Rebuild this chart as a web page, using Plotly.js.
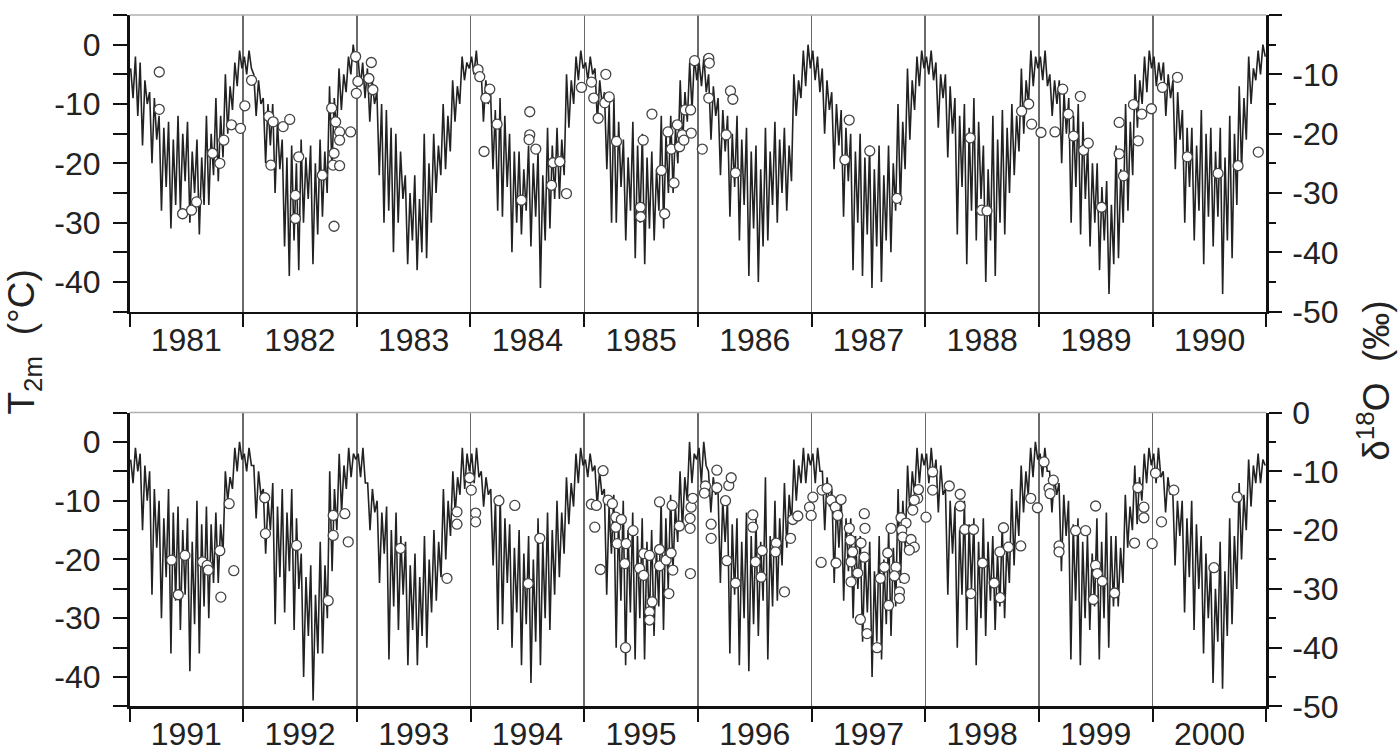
<!DOCTYPE html>
<html>
<head>
<meta charset="utf-8">
<script src="https://cdn.plot.ly/plotly-3.0.1.min.js"></script>
<style>html,body{margin:0;padding:0;background:#fff;}#chart{width:1400px;height:751px;}</style>
</head>
<body>
<div id="chart"></div>
<script>
// ---- 2 m temperature (°C), 4 readings per month, per year ----
const T1981 = [-4,-9,-2,-12, -3,-17,-6,-10, -8,-20,-9,-16, -12,-28,-14,-24, -13,-31,-16,-27, -12,-28,-15,-23, -13,-30,-18,-25, -16,-32,-19,-27, -12,-27,-15,-22, -9,-23,-12,-19, -5,-15,-7,-11, -3,-7,-1,-4];
const T1982 = [-2,-5,-1,-4, -5,-12,-6,-10, -9,-20,-10,-17, -10,-25,-13,-21, -16,-34,-19,-39, -17,-33,-20,-38, -16,-30,-19,-26, -17,-37,-20,-32, -16,-29,-18,-25, -7,-21,-9,-15, -4,-11,-5,-8, -2,-5,0,-3];
const T1983 = [-2,-7,-3,-9, -4,-13,-6,-10, -8,-22,-10,-30, -11,-28,-14,-35, -15,-30,-18,-26, -22,-37,-25,-33, -22,-38,-26,-35, -15,-36,-20,-30, -15,-25,-17,-22, -10,-21,-12,-18, -6,-13,-7,-10, -2,-6,-3,-4];
const T1984 = [-2,-5,-1,-6, -4,-13,-6,-10, -8,-21,-11,-28, -9,-29,-12,-24, -15,-35,-18,-30, -18,-32,-21,-28, -17,-34,-20,-29, -18,-41,-22,-33, -14,-31,-17,-26, -14,-26,-16,-22, -5,-14,-6,-10, -2,-6,-1,-4];
const T1985 = [-3,-6,-2,-5, -4,-13,-6,-10, -8,-21,-10,-30, -9,-30,-13,-24, -16,-33,-19,-28, -13,-36,-17,-30, -15,-37,-19,-31, -18,-33,-21,-28, -12,-31,-15,-25, -12,-25,-14,-20, -6,-17,-8,-13, -3,-11,-2,-6];
const T1986 = [-3,-7,-2,-8, -5,-16,-7,-12, -9,-22,-11,-18, -12,-29,-15,-24, -12,-33,-16,-27, -14,-39,-18,-31, -17,-40,-21,-34, -14,-33,-18,-27, -13,-30,-16,-25, -14,-28,-17,-23, -5,-12,-6,-9, -1,-7,0,-4];
const T1987 = [-1,-6,-2,-8, -4,-15,-6,-11, -8,-21,-10,-17, -11,-29,-14,-23, -15,-38,-18,-30, -15,-39,-19,-32, -17,-41,-21,-34, -17,-40,-22,-33, -17,-35,-20,-28, -10,-27,-13,-21, -4,-16,-6,-11, -2,-7,-1,-4];
const T1988 = [-2,-5,-1,-6, -3,-14,-5,-9, -5,-19,-7,-15, -9,-32,-12,-24, -10,-37,-14,-28, -9,-33,-13,-26, -17,-40,-21,-33, -12,-39,-16,-30, -11,-32,-14,-25, -10,-22,-12,-18, -4,-15,-6,-10, -1,-7,-2,-4];
const T1989 = [-2,-6,-1,-7, -5,-12,-6,-10, -6,-20,-8,-15, -9,-30,-12,-24, -10,-32,-13,-26, -17,-34,-20,-30, -20,-38,-24,-33, -23,-42,-27,-37, -17,-36,-21,-30, -10,-28,-13,-22, -5,-14,-6,-10, -2,-8,-1,-4];
const T1990 = [-2,-7,-3,-6, -3,-12,-5,-9, -6,-21,-8,-16, -11,-30,-14,-24, -14,-33,-17,-28, -11,-37,-15,-29, -14,-34,-18,-29, -14,-42,-19,-33, -12,-36,-15,-27, -7,-21,-9,-16, -2,-10,-4,-6, -1,-5,0,-2];
const T1991 = [-3,-7,-1,-5, -2,-15,-4,-10, -5,-26,-8,-18, -10,-30,-13,-23, -8,-36,-12,-27, -11,-32,-15,-26, -13,-39,-17,-31, -10,-36,-14,-28, -11,-30,-14,-24, -12,-24,-14,-19, -5,-10,-6,-8, -1,-5,0,-3];
const T1992 = [-2,-5,-1,-4, -4,-13,-5,-9, -8,-19,-10,-15, -7,-31,-11,-23, -8,-29,-12,-22, -8,-32,-13,-25, -19,-40,-23,-33, -21,-44,-26,-36, -17,-36,-21,-30, -5,-22,-8,-15, -2,-12,-4,-8, -1,-6,-2,-3];
const T1993 = [-2,-6,-1,-7, -7,-15,-8,-12, -10,-24,-12,-19, -11,-37,-15,-28, -12,-32,-16,-26, -17,-38,-21,-32, -19,-38,-23,-33, -16,-35,-20,-29, -15,-27,-17,-23, -8,-20,-10,-16, -5,-12,-6,-9, -1,-8,-2,-5];
const T1994 = [-2,-7,-1,-6, -5,-11,-6,-9, -8,-21,-10,-32, -9,-31,-13,-24, -14,-35,-18,-29, -15,-38,-19,-31, -16,-41,-20,-34, -13,-38,-17,-30, -12,-32,-15,-26, -10,-23,-12,-19, -6,-14,-7,-11, -2,-7,-1,-4];
const T1995 = [-3,-6,-2,-5, -4,-11,-5,-9, -8,-26,-11,-19, -9,-35,-13,-27, -10,-38,-15,-29, -12,-37,-16,-30, -13,-37,-17,-31, -15,-33,-18,-28, -10,-32,-13,-25, -9,-22,-11,-17, -5,-15,-6,-10, 0,-7,-2,-3];
const T1996 = [-1,-7,0,-4, -5,-12,-6,-9, -8,-24,-10,-17, -10,-36,-14,-26, -13,-38,-17,-30, -12,-39,-16,-31, -13,-33,-17,-27, -6,-37,-16,-28, -10,-27,-13,-21, -7,-18,-9,-14, -3,-10,-4,-7, -1,-7,-2,-4];
const T1997 = [-2,-7,-1,-5, -5,-15,-6,-11, -8,-24,-10,-18, -10,-27,-13,-22, -13,-30,-16,-25, -16,-34,-19,-29, -17,-40,-22,-34, -16,-37,-20,-31, -15,-33,-18,-28, -8,-24,-10,-18, -4,-12,-5,-9, -1,-7,-2,-4];
const T1998 = [-2,-7,-1,-6, -3,-12,-4,-9, -8,-26,-10,-19, -11,-35,-15,-26, -10,-32,-14,-25, -13,-38,-17,-30, -13,-33,-17,-27, -16,-32,-19,-28, -14,-30,-17,-24, -8,-21,-10,-16, -4,-12,-5,-9, -1,-6,0,-3];
const T1999 = [-2,-6,-1,-5, -5,-12,-6,-9, -7,-22,-9,-16, -10,-37,-14,-27, -13,-38,-17,-30, -16,-32,-19,-28, -13,-37,-17,-30, -12,-35,-16,-28, -16,-28,-18,-24, -9,-18,-11,-15, -4,-14,-6,-10, -2,-7,-1,-4];
const T2000 = [-2,-7,-1,-6, -5,-12,-6,-9, -8,-21,-10,-16, -10,-29,-13,-23, -10,-32,-14,-25, -16,-36,-19,-30, -21,-41,-25,-34, -17,-42,-22,-33, -13,-31,-16,-25, -7,-20,-9,-15, -3,-11,-4,-7, -2,-7,-3,-4];

const YEARS_TOP = [1981,1982,1983,1984,1985,1986,1987,1988,1989,1990];
const YEARS_BOT = [1991,1992,1993,1994,1995,1996,1997,1998,1999,2000];
const T_TOP = [T1981,T1982,T1983,T1984,T1985,T1986,T1987,T1988,T1989,T1990];
const T_BOT = [T1991,T1992,T1993,T1994,T1995,T1996,T1997,T1998,T1999,T2000];

// ---- δ18O samples (‰): time as decimal year, value ----
const D18O_TOP_T = [1981.262,1981.262,1981.467,1981.546,1981.590,1981.731,1981.795,1981.830,1981.897,1981.977,
 1982.015,1982.074,1982.226,1982.264,1982.352,1982.410,1982.244,1982.489,1982.460,1982.460,1982.697,1982.779,1982.814,1982.849,1982.849,1982.800,1982.791,1982.849,1982.800,1982.946,1982.996,1982.990,
 1983.010,1983.107,1983.128,1983.142,
 1984.067,1984.082,1984.170,1984.135,1984.234,1984.120,1984.521,1984.521,1984.515,1984.574,1984.448,1984.712,1984.726,1984.785,1984.843,1984.975,
 1985.063,1985.083,1985.122,1985.189,1985.180,1985.219,1985.283,1985.518,1985.595,1985.493,1985.496,1985.678,1985.707,1985.736,1985.765,1985.789,1985.818,1985.838,1985.862,1985.876,1985.888,1985.935,1985.941,1985.970,
 1986.038,1986.095,1986.100,1986.095,1986.286,1986.307,1986.248,1986.330,
 1987.331,1987.293,1987.512,1987.751,
 1988.395,1988.495,1988.542,1988.846,1988.908,1988.934,
 1989.016,1989.139,1989.207,1989.256,1989.303,1989.362,1989.391,1989.432,1989.549,1989.704,1989.704,1989.742,1989.830,1989.871,1989.903,1989.988,
 1990.085,1990.217,1990.304,1990.574,1990.750,1990.928];
const D18O_TOP_V = [-9.6,-15.9,-33.5,-32.9,-31.5,-23.3,-25.0,-21.1,-18.5,-19.1,
 -15.3,-11.0,-17.1,-18.0,-18.8,-17.6,-25.3,-23.9,-30.4,-34.3,-27.0,-15.7,-18.0,-19.7,-21.1,-23.3,-25.3,-25.4,-35.6,-19.7,-13.2,-7.0,
 -11.2,-10.7,-8.0,-12.6,
 -9.2,-10.4,-12.5,-14.0,-18.4,-23.0,-16.3,-20.2,-21.0,-22.6,-31.2,-28.7,-24.9,-24.7,-30.1,-12.2,
 -11.3,-14.0,-17.4,-10.0,-14.8,-13.8,-21.3,-21.1,-16.7,-32.4,-34.0,-26.2,-33.5,-19.7,-22.6,-28.3,-18.5,-22.2,-20.2,-21.1,-16.0,-16.0,-19.9,-7.7,
 -22.6,-7.3,-8.1,-14.0,-12.8,-14.2,-20.2,-26.6,
 -17.7,-24.4,-22.9,-30.9,
 -20.7,-32.9,-33.0,-16.2,-15.0,-18.4,
 -19.8,-19.7,-12.5,-16.7,-20.4,-13.7,-22.8,-21.6,-32.4,-18.1,-23.4,-27.1,-15.1,-21.2,-16.7,-15.8,
 -12.2,-10.5,-23.9,-26.7,-25.4,-23.1];

const D18O_BOT_T = [1991.370,1991.429,1991.488,1991.643,1991.684,1991.693,1991.795,1991.804,1991.877,1991.918,
 1992.190,1992.196,1992.469,1992.747,1992.791,1992.791,1992.893,1992.923,
 1993.382,1993.792,1993.880,1993.880,1993.991,
 1994.006,1994.044,1994.044,1994.249,1994.389,1994.609,1994.507,
 1995.063,1995.107,1995.166,1995.093,1995.142,1995.210,1995.248,1995.278,1995.278,1995.327,1995.290,1995.369,1995.430,1995.357,1995.364,1995.487,1995.523,1995.523,1995.575,1995.598,1995.575,1995.575,1995.663,1995.663,1995.663,1995.721,1995.745,1995.765,1995.780,1995.774,1995.838,1995.935,1995.932,1995.932,1995.941,1995.956,
 1996.067,1996.058,1996.117,1996.117,1996.167,1996.167,1996.243,1996.272,1996.293,1996.255,1996.331,1996.483,1996.483,1996.506,1996.556,1996.565,1996.688,1996.682,1996.761,1996.814,1996.834,1996.878,1996.981,1996.995,
 1997.010,1997.083,1997.091,1997.135,1997.170,1997.208,1997.258,1997.229,1997.214,1997.331,1997.340,1997.360,1997.346,1997.346,1997.405,1997.428,1997.434,1997.463,1997.469,1997.463,1997.487,1997.575,1997.604,1997.677,
 1997.669,1997.698,1997.786,1997.830,1997.792,1997.801,1997.874,1997.903,1997.859,1997.640,1997.742,1997.728,1997.816,1997.772,1997.772,1997.889,1997.933,1997.939,1997.903,
 1998.006,1998.064,1998.064,1998.211,1998.307,1998.307,1998.348,1998.424,1998.504,1998.401,1998.606,1998.656,1998.659,1998.688,1998.732,1998.840,1998.928,1998.987,
 1999.045,1999.089,1999.098,1999.127,1999.177,1999.177,1999.323,1999.411,1999.499,1999.499,1999.514,1999.558,1999.479,1999.666,1999.842,1999.871,1999.924,1999.924,1999.997,
 2000.026,2000.079,2000.187,2000.539,2000.744];
const D18O_BOT_V = [-25.1,-31.0,-24.3,-25.4,-26.0,-26.8,-23.5,-31.4,-15.5,-26.9,
 -14.5,-20.6,-22.6,-32.0,-17.5,-20.9,-17.2,-22.0,
 -23.1,-28.2,-16.9,-19.0,-11.1,
 -13.2,-17.1,-18.6,-15.0,-15.8,-21.4,-29.1,
 -15.6,-15.8,-9.9,-19.5,-26.7,-14.9,-15.5,-17.8,-19.5,-18.2,-22.3,-22.3,-20.1,-25.7,-40.0,-26.5,-27.7,-24.0,-24.3,-32.2,-33.9,-35.3,-15.2,-23.3,-26.1,-25.1,-30.8,-23.9,-26.8,-15.8,-19.3,-27.4,-19.7,-18.0,-16.1,-14.6,
 -12.5,-13.7,-19.0,-21.4,-9.8,-12.8,-15.0,-12.4,-11.1,-25.2,-29.0,-17.4,-19.5,-25.4,-28.0,-23.5,-22.2,-23.7,-30.5,-21.4,-18.2,-17.6,-16.1,-17.5,
 -14.4,-25.5,-13.2,-12.9,-14.9,-16.1,-14.8,-17.5,-25.6,-19.7,-21.7,-23.7,-25.4,-28.8,-27.3,-35.2,-22.2,-17.2,-19.7,-24.6,-37.6,-40.0,-28.2,-32.8,
 -23.9,-19.7,-17.9,-18.8,-20.0,-21.2,-21.6,-22.9,-23.4,-26.3,-26.3,-27.8,-28.2,-30.5,-31.6,-16.6,-14.6,-13.1,-14.9,
 -17.8,-10.1,-13.2,-12.5,-13.9,-15.9,-19.9,-19.9,-25.6,-30.8,-29.0,-23.7,-31.5,-19.6,-22.9,-22.7,-14.6,-16.2,
 -8.4,-12.9,-13.8,-11.5,-22.7,-23.7,-20.1,-20.1,-15.9,-26.0,-27.4,-28.7,-31.8,-30.7,-22.2,-12.8,-16.1,-17.9,-22.3,
 -10.3,-18.6,-13.2,-26.4,-14.4];

// Tick labels
const T_TICKVALS = [-40,-30,-20,-10,0];
const T_TICKTEXT = ['-40','-30','-20','-10','0'];
const T_MINORVALS = [-45,-35,-25,-15,-5,5];
const D_TICKVALS = [-50,-40,-30,-20,-10,0];
const D_TICKTEXT = ['-50','-40','-30','-20','-10','0'];
const D_MINORVALS = [-45,-35,-25,-15,-5];

// ---- helpers ----
function decYearToDate(t) {
  const y = Math.floor(t);
  const s = Date.UTC(y, 0, 1), e = Date.UTC(y + 1, 0, 1);
  const ms = s + (t - y) * (e - s);
  return new Date(ms).toISOString().slice(0, 19).replace('T', ' ');
}
function buildLine(years, arrs) {
  const x = [], y = [];
  years.forEach((yr, k) => {
    const a = arrs[k];
    a.forEach((v, i) => { x.push(decYearToDate(yr + (i + 0.5) / a.length)); y.push(v); });
  });
  return {x, y};
}

const lineTop = buildLine(YEARS_TOP, T_TOP);
const lineBot = buildLine(YEARS_BOT, T_BOT);

const LINE_STYLE = {color: '#222222', width: 1.6};
const MARKER_STYLE = {symbol: 'circle', size: 10, color: '#ffffff', line: {color: '#444444', width: 1.3}};

const traces = [
  {type: 'scatter', mode: 'lines', x: lineTop.x, y: lineTop.y, xaxis: 'x', yaxis: 'y', line: LINE_STYLE, hoverinfo: 'skip'},
  {type: 'scatter', mode: 'markers', x: D18O_TOP_T.map(decYearToDate), y: D18O_TOP_V, xaxis: 'x', yaxis: 'y2', marker: MARKER_STYLE, hoverinfo: 'skip'},
  {type: 'scatter', mode: 'lines', x: lineBot.x, y: lineBot.y, xaxis: 'x2', yaxis: 'y3', line: LINE_STYLE, hoverinfo: 'skip'},
  {type: 'scatter', mode: 'markers', x: D18O_BOT_T.map(decYearToDate), y: D18O_BOT_V, xaxis: 'x2', yaxis: 'y4', marker: MARKER_STYLE, hoverinfo: 'skip'}
];

const FONT = 'Liberation Sans, Arial, Helvetica, sans-serif';
const TICKFONT = {family: FONT, size: 32, color: '#222'};
const XDOM = [0.0925, 0.9046];
const TOPDOM = [0.5850, 0.9800];
const BOTDOM = [0.0593, 0.4507];

function xAxis(anchor, r0, r1) {
  return {
    type: 'date', domain: XDOM, anchor: anchor, range: [r0, r1],
    tick0: r0, dtick: 'M12', tickformat: '%Y', ticklabelmode: 'period',
    ticks: 'outside', ticklen: 13, tickwidth: 2, tickcolor: '#111', ticklabelstandoff: -15,
    showline: true, linecolor: '#111', linewidth: 2.5,
    showgrid: true, gridcolor: '#6a6a6a', gridwidth: 1.5,
    zeroline: false, tickfont: TICKFONT, automargin: false, fixedrange: true
  };
}
function yLeft(anchor, dom) {
  return {
    domain: dom, anchor: anchor, range: [-45, 5],
    tickmode: 'array', tickvals: T_TICKVALS, ticktext: T_TICKTEXT,
    ticks: 'outside', ticklen: 14, tickwidth: 2, tickcolor: '#111', ticklabelstandoff: 6,
    minor: {tickmode: 'array', tickvals: T_MINORVALS, ticks: 'outside', ticklen: 14, tickwidth: 2, tickcolor: '#111', showgrid: false},
    showline: true, linecolor: '#111', linewidth: 2.5,
    showgrid: false, zeroline: false, tickfont: TICKFONT, automargin: false, fixedrange: true
  };
}
function yRight(anchor, over) {
  return {
    overlaying: over, side: 'right', anchor: anchor, range: [-50, 0],
    tickmode: 'array', tickvals: D_TICKVALS, ticktext: D_TICKTEXT,
    ticks: 'outside', ticklen: 13, tickwidth: 2, tickcolor: '#111', ticklabelstandoff: 4,
    minor: {tickmode: 'array', tickvals: D_MINORVALS, ticks: 'outside', ticklen: 7, tickwidth: 2, tickcolor: '#111', showgrid: false},
    showline: true, linecolor: '#111', linewidth: 2.5,
    showgrid: false, zeroline: false, tickfont: TICKFONT, automargin: false, fixedrange: true
  };
}

const layout = {
  width: 1400, height: 751,
  margin: {l: 0, r: 0, t: 0, b: 0, pad: 0},
  paper_bgcolor: '#fff', plot_bgcolor: '#fff',
  showlegend: false,
  font: {family: FONT, color: '#222'},
  xaxis: xAxis('y', '1981-01-01', '1991-01-01'),
  yaxis: yLeft('x', TOPDOM),
  yaxis2: yRight('x', 'y'),
  xaxis2: xAxis('y3', '1991-01-01', '2001-01-01'),
  yaxis3: yLeft('x2', BOTDOM),
  yaxis4: yRight('x2', 'y3'),
  shapes: [
    {type: 'line', xref: 'paper', yref: 'paper', x0: XDOM[0], x1: XDOM[1], y0: TOPDOM[1], y1: TOPDOM[1], line: {color: '#b0b0b0', width: 1.5}},
    {type: 'line', xref: 'paper', yref: 'paper', x0: XDOM[0], x1: XDOM[1], y0: BOTDOM[1], y1: BOTDOM[1], line: {color: '#b0b0b0', width: 1.5}}
  ],
  annotations: [
    {xref: 'paper', yref: 'paper', x: 0.0175, y: 0.5446, xanchor: 'center', yanchor: 'middle', showarrow: false,
     textangle: -90, text: 'T<sub>2m</sub>\u00a0\u00a0(°C)', font: {family: FONT, size: 37, color: '#222'}},
    {xref: 'paper', yref: 'paper', x: 0.982, y: 0.4927, xanchor: 'center', yanchor: 'middle', showarrow: false,
     textangle: -90, text: 'δ<sup>18</sup>O\u00a0\u00a0(‰)', font: {family: FONT, size: 37, color: '#222'}}
  ]
};

Plotly.newPlot('chart', traces, layout, {staticPlot: true, displayModeBar: false});
</script>
</body>
</html>
